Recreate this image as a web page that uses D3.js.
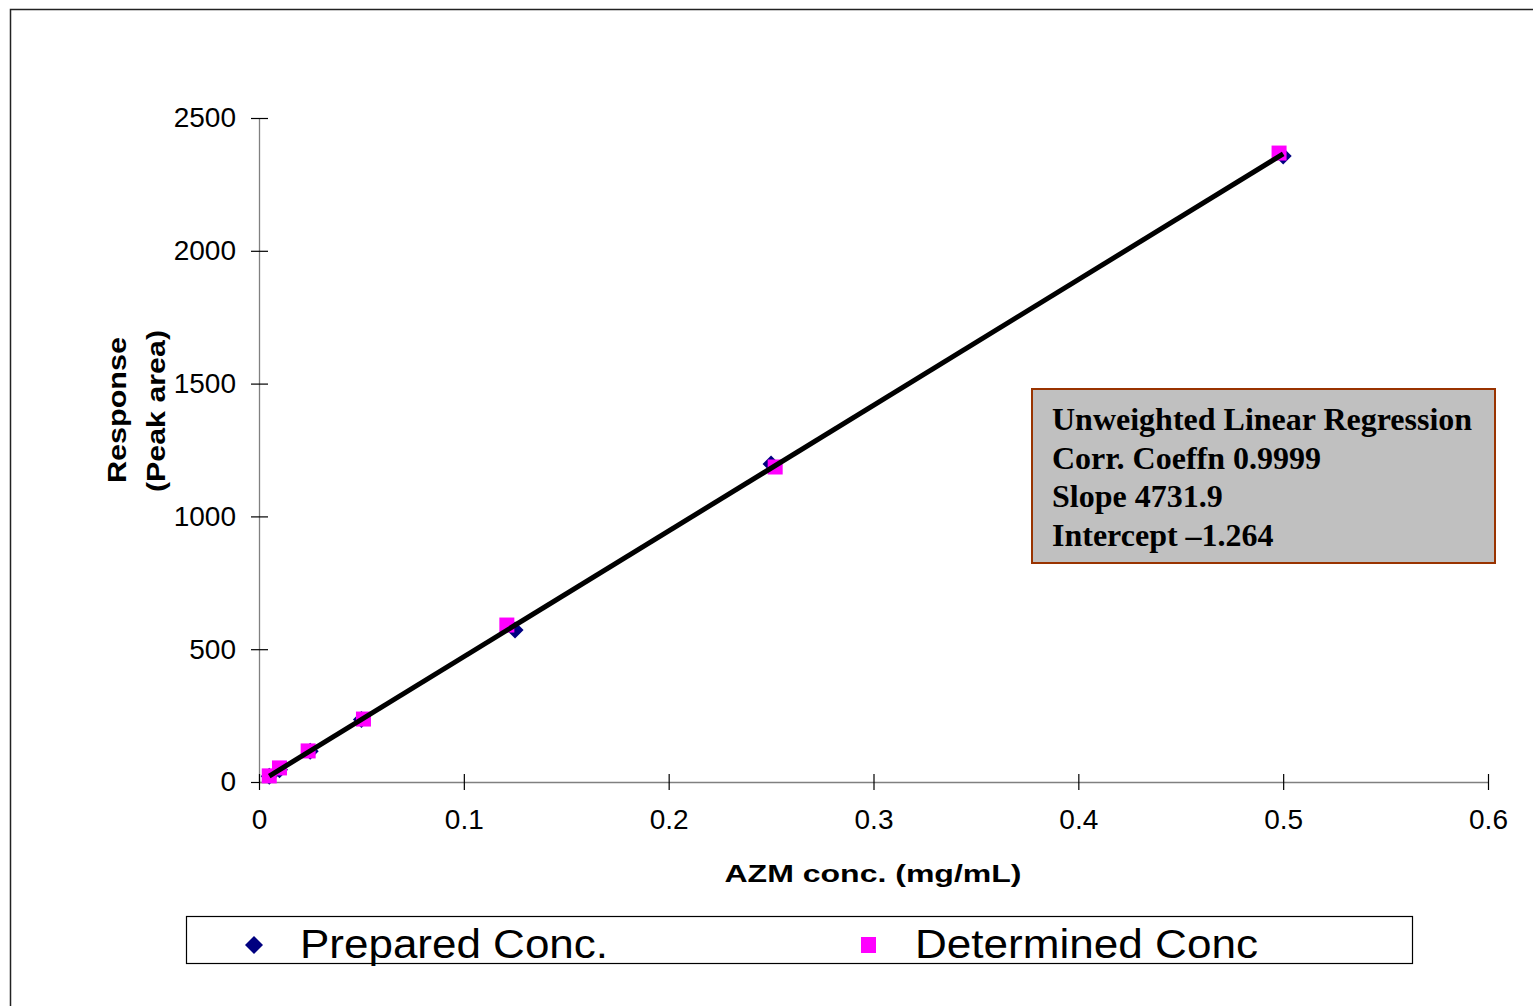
<!DOCTYPE html>
<html>
<head>
<meta charset="utf-8">
<script src="https://cdn.jsdelivr.net/npm/d3@7"></script>
<style>
  html, body { margin: 0; padding: 0; background: #fff; }
  svg { display: block; }
</style>
</head>
<body>
<svg id="chart" width="1533" height="1006"></svg>
<script>
// Calibration data: AZM concentration (mg/mL) vs. peak-area response
const preparedConc = [0.005, 0.01, 0.025, 0.05, 0.125, 0.25, 0.5];
const preparedResp = [22, 46, 116, 235, 572, 1197, 2357];
const determinedConc = [0.005, 0.010, 0.024, 0.051, 0.121, 0.252, 0.498];
const determinedResp = [23, 53, 117, 237, 591, 1186, 2368];

const xTicks = [0, 0.1, 0.2, 0.3, 0.4, 0.5, 0.6];
const yTicks = [0, 500, 1000, 1500, 2000, 2500];

const regressionSlope = 4731.9;
const regressionIntercept = -1.264;
const statsLines = [
  "Unweighted Linear Regression",
  "Corr. Coeffn 0.9999",
  "Slope 4731.9",
  "Intercept \u20131.264"
];
const seriesNames = ["Prepared Conc.", "Determined Conc"];

const svg = d3.select("#chart");

// Outer chart frame (runs off the right and bottom edges)
svg.append("rect")
  .attr("x", 10.5).attr("y", 9.5)
  .attr("width", 1600).attr("height", 1100)
  .attr("fill", "#fff").attr("stroke", "#222").attr("stroke-width", 1.5);

const x = d3.scaleLinear().domain([0, 0.6]).range([259, 1488]);
const y = d3.scaleLinear().domain([0, 2500]).range([782, 118]);

const axisFont = "Arial, 'Liberation Sans', sans-serif";

// Y axis: gray line with crossing black ticks
const yAxis = svg.append("g").attr("transform", `translate(${x(0)},0)`)
  .call(d3.axisLeft(y).tickValues(yTicks).tickSize(0).tickPadding(23).tickFormat(d3.format("d")));
yAxis.select(".domain").attr("stroke", "#808080").attr("stroke-width", 1.3);
yAxis.selectAll(".tick text")
  .attr("font-family", axisFont).attr("font-size", 28).attr("fill", "#000");
yAxis.selectAll(".tick").append("line")
  .attr("x1", -8).attr("x2", 9).attr("stroke", "#000").attr("stroke-width", 1.2);

// X axis
const xAxis = svg.append("g").attr("transform", `translate(0,${y(0)})`)
  .call(d3.axisBottom(x).tickValues(xTicks).tickSize(0).tickPadding(27).tickFormat(d => d === 0 ? "0" : d3.format(".1f")(d)));
xAxis.select(".domain").attr("stroke", "#808080").attr("stroke-width", 1.3);
xAxis.selectAll(".tick text")
  .attr("font-family", axisFont).attr("font-size", 28).attr("fill", "#000");
xAxis.selectAll(".tick").append("line")
  .attr("y1", -8).attr("y2", 8).attr("stroke", "#000").attr("stroke-width", 1.2);

// Axis titles
svg.append("text")
  .attr("transform", "translate(126,410) rotate(-90)")
  .attr("text-anchor", "middle")
  .attr("font-family", axisFont).attr("font-weight", "bold").attr("font-size", 26)
  .attr("textLength", 146).attr("lengthAdjust", "spacingAndGlyphs")
  .text("Response");
svg.append("text")
  .attr("transform", "translate(165,411) rotate(-90)")
  .attr("text-anchor", "middle")
  .attr("font-family", axisFont).attr("font-weight", "bold").attr("font-size", 26)
  .attr("textLength", 162).attr("lengthAdjust", "spacingAndGlyphs")
  .text("(Peak area)");
svg.append("text")
  .attr("x", 873).attr("y", 882)
  .attr("text-anchor", "middle")
  .attr("font-family", axisFont).attr("font-weight", "bold").attr("font-size", 24)
  .attr("textLength", 297).attr("lengthAdjust", "spacingAndGlyphs")
  .text("AZM conc. (mg/mL)");

// Markers
const diamondPath = r => `M0,${-r}L${r},0L0,${r}L${-r},0Z`;
const prepared = preparedConc.map((c, i) => ({ c, r: preparedResp[i] }));
const determined = determinedConc.map((c, i) => ({ c, r: determinedResp[i] }));

svg.append("g").selectAll("path").data(prepared).join("path")
  .attr("d", diamondPath(8.5))
  .attr("transform", d => `translate(${x(d.c)},${y(d.r)})`)
  .attr("fill", "#000080");

const sq = 15;
svg.append("g").selectAll("rect").data(determined).join("rect")
  .attr("x", d => x(d.c) - sq / 2).attr("y", d => y(d.r) - sq / 2)
  .attr("width", sq).attr("height", sq)
  .attr("fill", "#ff00ff");

// Regression line across the calibration range
const lineX = d3.extent(preparedConc);
svg.append("path")
  .datum(lineX.map(c => [c, regressionSlope * c + regressionIntercept]))
  .attr("d", d3.line().x(d => x(d[0])).y(d => y(d[1])))
  .attr("stroke", "#000").attr("stroke-width", 5).attr("fill", "none");

// Regression statistics box
svg.append("rect")
  .attr("x", 1032).attr("y", 389).attr("width", 463).attr("height", 174)
  .attr("fill", "#c0c0c0").attr("stroke", "#993300").attr("stroke-width", 2);
svg.append("g").selectAll("text").data(statsLines).join("text")
  .attr("x", 1052).attr("y", (d, i) => 430 + i * 38.5)
  .attr("font-family", "'Times New Roman', 'Liberation Serif', serif")
  .attr("font-weight", "bold").attr("font-size", 32)
  .text(d => d);

// Legend
svg.append("rect")
  .attr("x", 186.5).attr("y", 916.5).attr("width", 1226).attr("height", 47)
  .attr("fill", "#fff").attr("stroke", "#000").attr("stroke-width", 1.2);
svg.append("path")
  .attr("d", diamondPath(9))
  .attr("transform", "translate(254,945)")
  .attr("fill", "#000080");
svg.append("rect")
  .attr("x", 861).attr("y", 937).attr("width", 15).attr("height", 16)
  .attr("fill", "#ff00ff");
svg.append("text")
  .attr("x", 300).attr("y", 958)
  .attr("font-family", axisFont).attr("font-size", 40)
  .attr("textLength", 308).attr("lengthAdjust", "spacingAndGlyphs")
  .text(seriesNames[0]);
svg.append("text")
  .attr("x", 915).attr("y", 958)
  .attr("font-family", axisFont).attr("font-size", 40)
  .attr("textLength", 343).attr("lengthAdjust", "spacingAndGlyphs")
  .text(seriesNames[1]);
</script>
</body>
</html>
